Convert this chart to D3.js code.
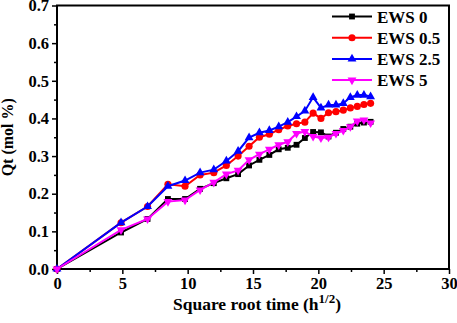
<!DOCTYPE html>
<html lang="en">
    <head>
        <meta charset="utf-8"/>
        <script src="https://d3js.org/d3.v7.min.js"></script>
        <style>
            body { margin: 0; background: #fff; }
            text { font-family: "Liberation Serif", "Times New Roman", serif; font-weight: bold; }
        </style>
    </head>
    <body>
        <div id="chart"></div>
    </body>
    <script>
        // square root time values (h^1/2)
        var times = [0, 4.9, 6.93, 8.49, 9.8, 10.95, 12, 12.96, 13.86, 14.7, 15.49, 16.25, 16.97,
            17.66, 18.33, 18.97, 19.6, 20.2, 20.78, 21.35, 21.91, 22.45, 22.98, 23.49, 24];

        var ews0 = [0, 0.097, 0.133, 0.186, 0.186, 0.213, 0.228, 0.241, 0.252, 0.275, 0.29, 0.303, 0.318,
            0.322, 0.33, 0.348, 0.364, 0.363, 0.352, 0.362, 0.372, 0.378, 0.386, 0.389, 0.391];
        var ews05 = [0, 0.123, 0.166, 0.225, 0.22, 0.25, 0.256, 0.275, 0.3, 0.326, 0.35, 0.358, 0.37,
            0.38, 0.386, 0.39, 0.414, 0.4, 0.415, 0.418, 0.422, 0.428, 0.432, 0.437, 0.44];
        var ews25 = [0, 0.123, 0.166, 0.22, 0.235, 0.256, 0.264, 0.287, 0.313, 0.349, 0.362, 0.368, 0.378,
            0.39, 0.405, 0.42, 0.456, 0.428, 0.436, 0.436, 0.44, 0.456, 0.462, 0.462, 0.458];
        var ews5 = [0, 0.104, 0.133, 0.179, 0.183, 0.21, 0.23, 0.252, 0.262, 0.29, 0.305, 0.318, 0.33,
            0.338, 0.36, 0.365, 0.352, 0.348, 0.35, 0.36, 0.368, 0.378, 0.393, 0.396, 0.388];

        var seriesNames = ["EWS 0", "EWS 0.5", "EWS 2.5", "EWS 5"];
        var xTicks = [0, 5, 10, 15, 20, 25, 30];
        var yTicks = [0, 0.1, 0.2, 0.3, 0.4, 0.5, 0.6, 0.7];

        var colors = ["#000000", "#ff0000", "#0000ff", "#ff00ff"];
        var symbols = [d3.symbolSquare, d3.symbolCircle, d3.symbolTriangle, d3.symbolTriangle];
        var allValues = [ews0, ews05, ews25, ews5];

        var W = 457, H = 323;
        var margin = {top: 5.5, right: 8, bottom: 54, left: 57};
        var width = W - margin.left - margin.right;
        var height = H - margin.top - margin.bottom;

        var svg = d3.select("#chart")
            .append("svg")
                .attr("width", W)
                .attr("height", H)
            .append("g")
                .attr("transform", "translate(" + margin.left + "," + margin.top + ")");

        var x = d3.scaleLinear().domain([0, 30]).range([0, width]);
        var y = d3.scaleLinear().domain([0, 0.7]).range([height, 0]);

        // minor ticks
        var xMinor = d3.axisBottom(x).tickValues(d3.range(2.5, 30, 5)).tickSize(3).tickFormat("");
        var yMinor = d3.axisLeft(y).tickValues(d3.range(0.05, 0.7, 0.1)).tickSize(3).tickFormat("");
        svg.append("g").attr("transform", "translate(0," + height + ")").call(xMinor);
        svg.append("g").call(yMinor);

        svg.append("g")
            .attr("transform", "translate(0," + height + ")")
            .call(d3.axisBottom(x).tickValues(xTicks).tickSize(5).tickPadding(3).tickFormat(d3.format("d")));
        svg.append("g")
            .call(d3.axisLeft(y).tickValues(yTicks).tickSize(5).tickPadding(3).tickFormat(d3.format(".1f")));

        svg.selectAll(".domain").remove();
        svg.selectAll(".tick line").attr("stroke", "#000").attr("stroke-width", 1.5);
        svg.selectAll(".tick text").attr("font-size", 16.5).attr("fill", "#000")
            .style("font-family", "'Liberation Serif', serif").style("font-weight", "bold");

        // frame
        svg.append("rect")
            .attr("x", 0).attr("y", 0)
            .attr("width", width).attr("height", height)
            .attr("fill", "none").attr("stroke", "#000").attr("stroke-width", 2);

        // lines and markers
        var line = d3.line()
            .x(function (d) { return x(d[0]); })
            .y(function (d) { return y(d[1]); });

        allValues.forEach(function (vals, i) {
            var pts = times.map(function (t, j) { return [t, vals[j]]; });
            svg.append("path")
                .datum(pts)
                .attr("d", line)
                .attr("fill", "none")
                .attr("stroke", colors[i])
                .attr("stroke-width", 2);
            svg.selectAll(".m" + i)
                .data(pts)
                .enter()
                .append("path")
                    .attr("d", d3.symbol().type(symbols[i]).size(i == 1 ? 40 : 34))
                    .attr("transform", function (d) {
                        return "translate(" + x(d[0]) + "," + y(d[1]) + ")" + (i == 3 ? " rotate(180)" : "");
                    })
                    .attr("fill", colors[i]);
        });

        // legend
        var legend = svg.append("g").attr("transform", "translate(" + (332 - margin.left) + "," + (16.5 - margin.top) + ")");
        seriesNames.forEach(function (name, i) {
            var g = legend.append("g").attr("transform", "translate(0," + (i * 21.2) + ")");
            g.append("line").attr("x1", 0).attr("x2", 40).attr("y1", 0).attr("y2", 0)
                .attr("stroke", colors[i]).attr("stroke-width", 2);
            g.append("path")
                .attr("d", d3.symbol().type(symbols[i]).size(i == 1 ? 40 : 34))
                .attr("transform", "translate(20,0)" + (i == 3 ? " rotate(180)" : ""))
                .attr("fill", colors[i]);
            g.append("text").attr("x", 45).attr("y", 6)
                .attr("font-size", 17).attr("fill", "#000").text(name);
        });

        // axis titles
        var xt = svg.append("text")
            .attr("x", width / 2 + 4)
            .attr("y", height + 41)
            .attr("text-anchor", "middle")
            .attr("font-size", 17.5)
            .attr("fill", "#000");
        xt.append("tspan").text("Square root time (h");
        xt.append("tspan").attr("dy", -7).attr("font-size", 13).text("1/2");
        xt.append("tspan").attr("dy", 7).text(")");

        svg.append("text")
            .attr("transform", "translate(" + (-44) + "," + (height / 2) + ") rotate(-90)")
            .attr("text-anchor", "middle")
            .attr("font-size", 16)
            .attr("fill", "#000")
            .text("Qt (mol %)");
    </script>
</html>
